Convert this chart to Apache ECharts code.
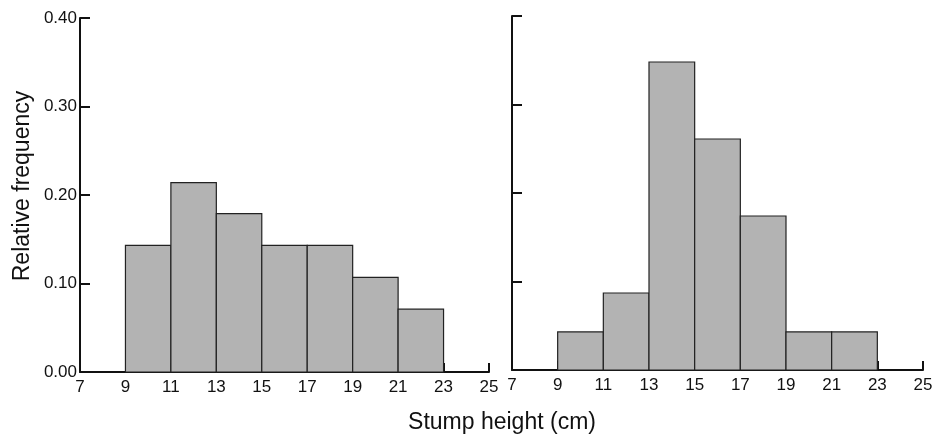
<!DOCTYPE html>
<html>
<head>
<meta charset="utf-8">
<script src="https://cdn.jsdelivr.net/npm/echarts@6/dist/echarts.min.js"></script>
<style>
  html, body { margin: 0; padding: 0; background: #fff; }
  #chart { width: 936px; height: 436px; }
</style>
</head>
<body>
<div id="chart"></div>
<script>
// bin edges (cm) and relative frequencies
const binStarts = [9, 11, 13, 15, 17, 19, 21];
const binWidth = 2;
const leftFreq = [0.143, 0.214, 0.179, 0.143, 0.143, 0.107, 0.071];
const rightFreq = [0.043, 0.087, 0.348, 0.261, 0.174, 0.043, 0.043];
const xTicks = [7, 9, 11, 13, 15, 17, 19, 21, 23, 25];
const yTicks = [0, 0.1, 0.2, 0.3, 0.4];

const chart = echarts.init(document.getElementById('chart'));

const font = 'Liberation Sans, Arial, sans-serif';

function histData(freq) {
  return binStarts.map((s, i) => [s, s + binWidth, freq[i]]);
}

// each bin drawn as a rect through the axis scales
function renderBin(params, api) {
  const p0 = api.coord([api.value(0), api.value(2)]);
  const p1 = api.coord([api.value(1), 0]);
  return {
    type: 'rect',
    shape: { x: p0[0], y: p0[1], width: p1[0] - p0[0], height: p1[1] - p0[1] },
    style: { fill: '#b3b3b3', stroke: '#222', lineWidth: 1.2 }
  };
}

function xAxis(gridIndex) {
  return {
    type: 'value', gridIndex, min: xTicks[0], max: xTicks[xTicks.length - 1], interval: 2,
    axisLine: { lineStyle: { color: '#111', width: 2 } },
    axisTick: { inside: true, length: 9, lineStyle: { color: '#111', width: 2 } },
    axisLabel: { color: '#111', fontFamily: font, fontSize: 17, margin: 7 },
    splitLine: { show: false }
  };
}

function yAxis(gridIndex, showLabels) {
  return {
    type: 'value', gridIndex, min: yTicks[0], max: yTicks[yTicks.length - 1], interval: 0.1,
    axisLine: { show: true, lineStyle: { color: '#111', width: 2 } },
    axisTick: { show: true, inside: true, length: 10, lineStyle: { color: '#111', width: 2 } },
    axisLabel: {
      show: showLabels, color: '#111', fontFamily: font, fontSize: 17, margin: 3,
      formatter: v => v.toFixed(2)
    },
    splitLine: { show: false }
  };
}

chart.setOption({
  animation: false,
  grid: [
    { left: 80, top: 18, width: 409, height: 354 },
    { left: 512, top: 16, width: 411, height: 354 }
  ],
  xAxis: [xAxis(0), xAxis(1)],
  yAxis: [yAxis(0, true), yAxis(1, false)],
  series: [
    { type: 'custom', xAxisIndex: 0, yAxisIndex: 0, renderItem: renderBin, data: histData(leftFreq), encode: { x: [0, 1], y: 2 } },
    { type: 'custom', xAxisIndex: 1, yAxisIndex: 1, renderItem: renderBin, data: histData(rightFreq), encode: { x: [0, 1], y: 2 } }
  ],
  graphic: [
    {
      type: 'text', x: 23, y: 186, rotation: Math.PI / 2,
      style: { text: 'Relative frequency', fontFamily: font, fontSize: 23, fill: '#111', textAlign: 'center', textVerticalAlign: 'middle' }
    },
    {
      type: 'text', x: 502, y: 423,
      style: { text: 'Stump height (cm)', fontFamily: font, fontSize: 23, fill: '#111', textAlign: 'center', textVerticalAlign: 'middle' }
    }
  ]
});
</script>
</body>
</html>
